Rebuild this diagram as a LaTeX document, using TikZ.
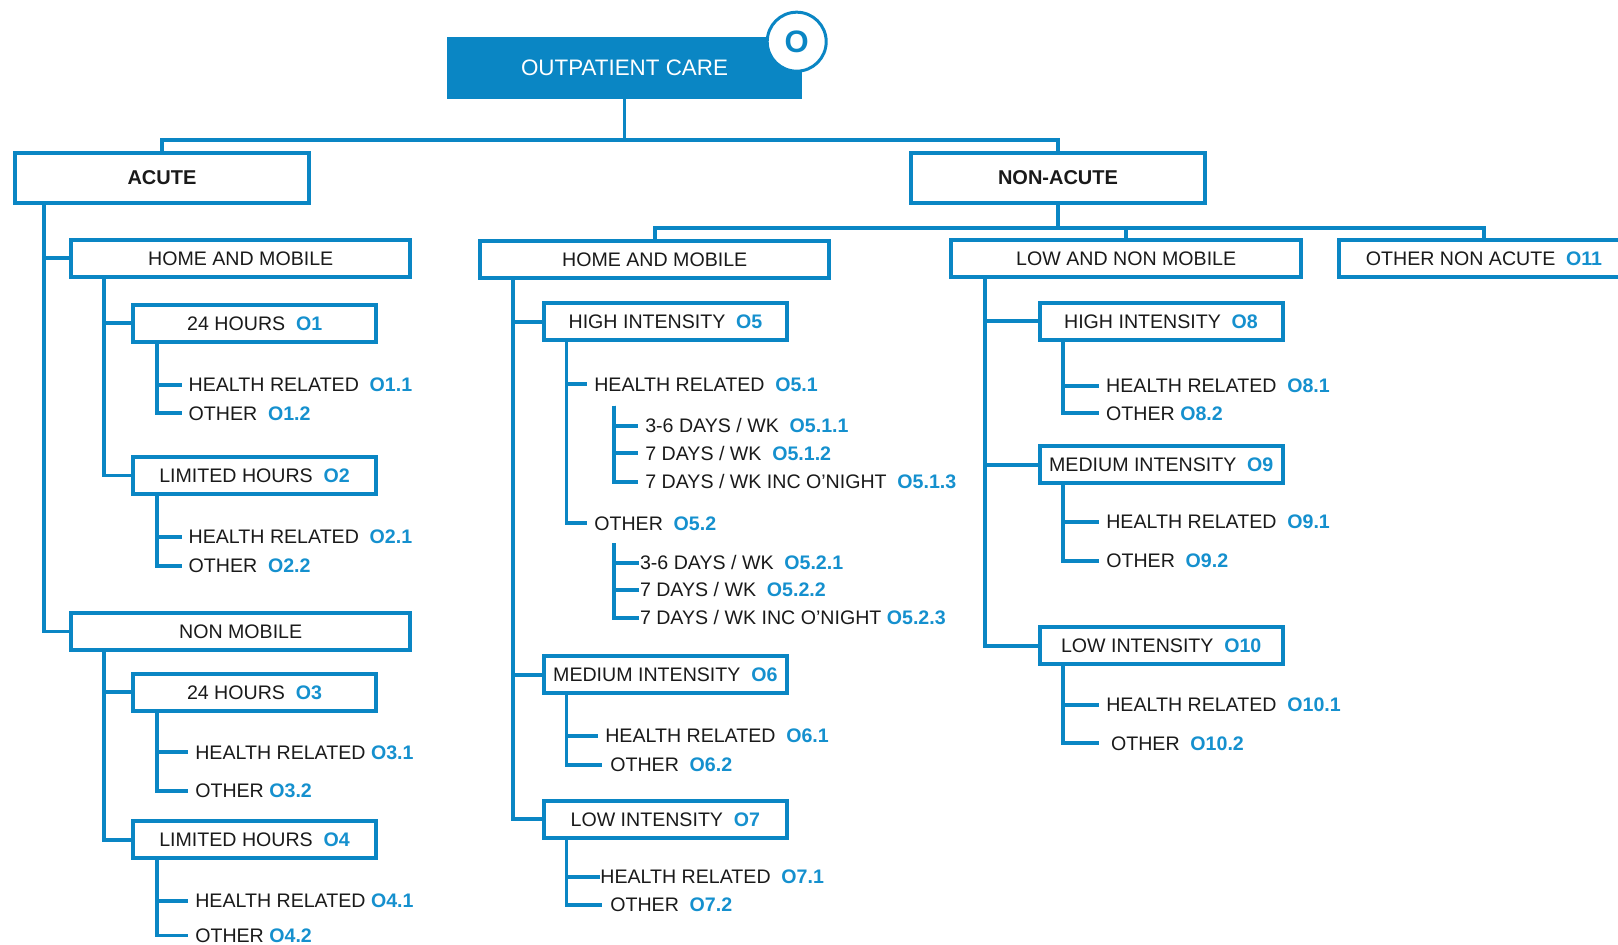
\documentclass[tikz,border=0pt]{standalone}
\usepackage{fontspec}
\setmainfont{Liberation Sans}
\usetikzlibrary{backgrounds}
\definecolor{ublue}{HTML}{0A86C4}
\definecolor{cblue}{HTML}{1590CE}
\definecolor{tblack}{HTML}{1A1A1A}
\newcommand\cd[1]{\hspace{0.55em}\textcolor{cblue}{\bfseries #1}}
\newcommand\cds[1]{\hspace{0.28em}\textcolor{cblue}{\bfseries #1}}
\begin{document}
\begin{tikzpicture}[x=0.5pt,y=-0.5pt,
  every node/.style={font=\fontsize{9.8pt}{11pt}\selectfont, text=tblack, text height=7pt, text depth=0pt},
  bx/.style={draw=ublue, line width=2pt, fill=white, inner sep=0pt, minimum height=18.5pt},
  sbox/.style={bx, minimum width=121.5pt},
  topbox/.style={bx, minimum width=146.7pt, minimum height=25pt, font=\fontsize{10pt}{12pt}\selectfont\bfseries},
  leaf/.style={anchor=west, inner xsep=3.3pt, inner ysep=0.5pt},
  conn/.style={draw=ublue, line width=1.9pt},
]
\useasboundingbox (0,0) rectangle (1618,945);
\clip (0,0) rectangle (1618,945);

% top
\node[fill=ublue, minimum width=177.8pt, minimum height=31pt, inner sep=0pt, text=white,
      font=\fontsize{11.2pt}{13pt}\selectfont, text height=8pt] (oc) at (624.5,67.7) {OUTPATIENT CARE};
\node[circle, draw=ublue, line width=1.5pt, fill=white, minimum size=29.5pt, inner sep=0pt, text=ublue,
      font=\fontsize{15.5pt}{16pt}\selectfont\bfseries, text height=11pt] (ob) at (796.7,41.7) {O};
\node[topbox] (acute) at (162,178) {ACUTE};
\node[topbox] (nonacute) at (1058,178) {NON-ACUTE};

% acute
\node[bx, minimum width=169.6pt] (ahm) at (240.7,258.3) {HOME AND MOBILE};
\node[bx, minimum width=169.6pt] (anm) at (240.7,631.5) {NON MOBILE};
\node[sbox] (o1) at (254.7,323.3) {24 HOURS\cd{O1}};
\node[sbox] (o2) at (254.5,475.5) {LIMITED HOURS\cd{O2}};
\node[sbox] (o3) at (254.5,692.2) {24 HOURS\cd{O3}};
\node[sbox] (o4) at (254.5,840) {LIMITED HOURS\cd{O4}};
\node[leaf] (l11) at (181.7,385) {HEALTH RELATED\cd{O1.1}};
\node[leaf] (l12) at (181.7,413.3) {OTHER\cd{O1.2}};
\node[leaf] (l21) at (181.7,536.7) {HEALTH RELATED\cd{O2.1}};
\node[leaf] (l22) at (181.7,565.7) {OTHER\cd{O2.2}};
\node[leaf] (l31) at (188.3,752.3) {HEALTH RELATED\cds{O3.1}};
\node[leaf] (l32) at (188.3,790.7) {OTHER\cds{O3.2}};
\node[leaf] (l41) at (188.3,901) {HEALTH RELATED\cds{O4.1}};
\node[leaf] (l42) at (188.3,935.5) {OTHER\cds{O4.2}};

% non-acute home and mobile
\node[bx, minimum width=174.3pt] (nhm) at (654.7,259.2) {HOME AND MOBILE};
\node[sbox] (o5) at (665.5,321.7) {HIGH INTENSITY\cd{O5}};
\node[sbox] (o6) at (665.3,674.8) {MEDIUM INTENSITY\cd{O6}};
\node[sbox] (o7) at (665.3,819.2) {LOW INTENSITY\cd{O7}};
\node[leaf] (l51) at (587.3,384.3) {HEALTH RELATED\cd{O5.1}};
\node[leaf] (l511) at (638.3,425.7) {3-6 DAYS / WK\cd{O5.1.1}};
\node[leaf] (l512) at (638.3,453.3) {7 DAYS / WK\cd{O5.1.2}};
\node[leaf] (l513) at (638.3,481.7) {7 DAYS / WK INC O'NIGHT\cd{O5.1.3}};
\node[leaf] (l52) at (587.3,523.3) {OTHER\cd{O5.2}};
\node[leaf, inner xsep=0.3pt] (l521) at (639,562.7) {3-6 DAYS / WK\cd{O5.2.1}};
\node[leaf, inner xsep=0.3pt] (l522) at (639,590) {7 DAYS / WK\cd{O5.2.2}};
\node[leaf, inner xsep=0.3pt] (l523) at (639,618) {7 DAYS / WK INC O'NIGHT\cds{O5.2.3}};
\node[leaf] (l61) at (598.3,736) {HEALTH RELATED\cd{O6.1}};
\node[leaf, inner xsep=3.8pt] (l62) at (602.3,765) {OTHER\cd{O6.2}};
\node[leaf, inner xsep=0pt] (l71) at (600,876.7) {HEALTH RELATED\cd{O7.1}};
\node[leaf, inner xsep=4.1pt] (l72) at (601.7,905) {OTHER\cd{O7.2}};

% low and non mobile
\node[bx, minimum width=174.8pt] (lnm) at (1126.2,258.8) {LOW AND NON MOBILE};
\node[bx, minimum width=145.5pt] (o11) at (1484,258.8) {OTHER NON ACUTE\cd{O11}};
\node[sbox] (o8) at (1161,321.2) {HIGH INTENSITY\cd{O8}};
\node[sbox] (o9) at (1161.2,464.8) {MEDIUM INTENSITY\cd{O9}};
\node[sbox] (o10) at (1161.2,645.7) {LOW INTENSITY\cd{O10}};
\node[leaf] (l81) at (1099.2,385.7) {HEALTH RELATED\cd{O8.1}};
\node[leaf] (l82) at (1099.2,413.3) {OTHER\cds{O8.2}};
\node[leaf] (l91) at (1099.3,521.7) {HEALTH RELATED\cd{O9.1}};
\node[leaf] (l92) at (1099.3,560.7) {OTHER\cd{O9.2}};
\node[leaf] (l101) at (1099.3,705) {HEALTH RELATED\cd{O10.1}};
\node[leaf, inner xsep=5.7pt] (l102) at (1099.3,743.3) {OTHER\cd{O10.2}};

\coordinate (j0) at (0,140);
\coordinate (j1) at (0,228);
\coordinate (xa) at (44.3,0);
\coordinate (xb) at (104.3,0);
\coordinate (xc) at (157,0);
\coordinate (xd) at (513.3,0);
\coordinate (xe) at (566.5,0);
\coordinate (xf) at (984.7,0);
\coordinate (xg) at (1063,0);
\coordinate (q1) at (614,405.7);
\coordinate (q2) at (614,543.3);

\begin{pgfonlayer}{background}
\draw[conn] (oc.south) -- (oc.south |- j0);
\draw[conn] (acute.north) -- (acute.north |- j0) -- (nonacute.north |- j0) -- (nonacute.north);
\draw[conn] (nonacute.south) -- (nonacute.south |- j1);
\draw[conn] (nhm.north) -- (nhm.north |- j1) -- (o11.north |- j1) -- (o11.north);
\draw[conn] (lnm.north) -- (lnm.north |- j1);

\draw[conn] (acute.south -| xa) |- (ahm.west);
\draw[conn] (acute.south -| xa) |- (anm.west);
\draw[conn] (ahm.south -| xb) |- (o1.west);
\draw[conn] (ahm.south -| xb) |- (o2.west);
\draw[conn] (anm.south -| xb) |- (o3.west);
\draw[conn] (anm.south -| xb) |- (o4.west);
\draw[conn] (o1.south -| xc) |- (l11.west);
\draw[conn] (o1.south -| xc) |- (l12.west);
\draw[conn] (o2.south -| xc) |- (l21.west);
\draw[conn] (o2.south -| xc) |- (l22.west);
\draw[conn] (o3.south -| xc) |- (l31.west);
\draw[conn] (o3.south -| xc) |- (l32.west);
\draw[conn] (o4.south -| xc) |- (l41.west);
\draw[conn] (o4.south -| xc) |- (l42.west);

\draw[conn] (nhm.south -| xd) |- (o5.west);
\draw[conn] (nhm.south -| xd) |- (o6.west);
\draw[conn] (nhm.south -| xd) |- (o7.west);
\draw[conn] (o5.south -| xe) |- (l51.west);
\draw[conn] (o5.south -| xe) |- (l52.west);
\draw[conn] (q1) |- (l511.west);
\draw[conn] (q1) |- (l512.west);
\draw[conn] (q1) |- (l513.west);
\draw[conn] (q2) |- (l521.west);
\draw[conn] (q2) |- (l522.west);
\draw[conn] (q2) |- (l523.west);
\draw[conn] (o6.south -| xe) |- (l61.west);
\draw[conn] (o6.south -| xe) |- (l62.west);
\draw[conn] (o7.south -| xe) |- (l71.west);
\draw[conn] (o7.south -| xe) |- (l72.west);

\draw[conn] (lnm.south -| xf) |- (o8.west);
\draw[conn] (lnm.south -| xf) |- (o9.west);
\draw[conn] (lnm.south -| xf) |- (o10.west);
\draw[conn] (o8.south -| xg) |- (l81.west);
\draw[conn] (o8.south -| xg) |- (l82.west);
\draw[conn] (o9.south -| xg) |- (l91.west);
\draw[conn] (o9.south -| xg) |- (l92.west);
\draw[conn] (o10.south -| xg) |- (l101.west);
\draw[conn] (o10.south -| xg) |- (l102.west);
\end{pgfonlayer}
\end{tikzpicture}
\end{document}
